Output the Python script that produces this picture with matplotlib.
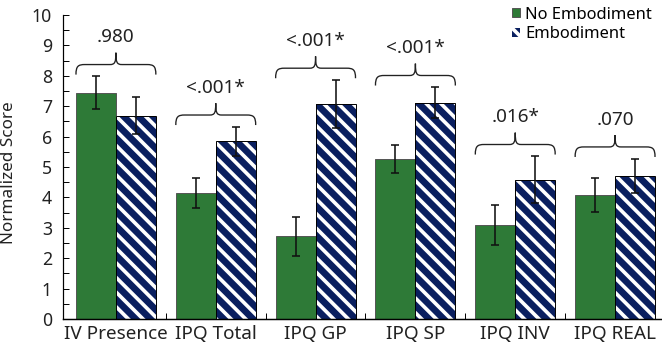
import numpy as np
import matplotlib
matplotlib.use("Agg")
import matplotlib.pyplot as plt
from matplotlib.path import Path
from matplotlib.patches import PathPatch

plt.rcParams['font.family'] = ['Noto Sans', 'DejaVu Sans']
plt.rcParams['hatch.linewidth'] = 3.0

categories = ['IV Presence', 'IPQ Total', 'IPQ GP', 'IPQ SP', 'IPQ INV', 'IPQ REAL']
no_emb = [7.45, 4.15, 2.72, 5.25, 3.10, 4.08]
no_emb_err = [0.53, 0.50, 0.64, 0.46, 0.65, 0.56]
emb = [6.69, 5.84, 7.07, 7.12, 4.58, 4.70]
emb_err = [0.62, 0.48, 0.79, 0.50, 0.77, 0.57]
p_labels = ['.980', '<.001*', '<.001*', '<.001*', '.016*', '.070']

green = '#2e7a37'
navy = '#0a1f5f'
fs = 14.5

dpi = 88
fig = plt.figure(figsize=(662 / dpi, 351 / dpi), dpi=dpi)
ax = fig.add_axes([63 / 662, 32 / 351, 1 - 63 / 662, 304 / 351])

x = np.arange(len(categories))
w = 0.4
ax.bar(x - w / 2, no_emb, w, color=green, edgecolor='#555555', linewidth=0.8,
       label='No Embodiment', zorder=2)
ax.bar(x + w / 2, emb, w, color=navy, edgecolor='white', linewidth=0,
       hatch='\\\\', label='Embodiment', zorder=2)
ax.bar(x + w / 2, emb, w, fill=False, edgecolor='black', linewidth=0.8, zorder=3)

ax.errorbar(x - w / 2, no_emb, yerr=no_emb_err, fmt='none', ecolor='#111111',
            elinewidth=1.3, capsize=3.5, capthick=1.3, zorder=4)
ax.errorbar(x + w / 2, emb, yerr=emb_err, fmt='none', ecolor='#111111',
            elinewidth=1.3, capsize=3.5, capthick=1.3, zorder=4)


# curly brace over each pair
def brace(ax, xl, xr, y0, H=0.72, h1=0.33, dx1=0.09, dx2=0.06):
    xm = (xl + xr) / 2
    y1 = y0 + h1
    yt = y0 + H
    verts = [
        (xl, y0),
        (xl, y1 - 0.05), (xl + dx1 * 0.25, y1), (xl + dx1, y1),
        (xm - dx2, y1),
        (xm - dx2 * 0.15, y1), (xm, y1 + (yt - y1) * 0.2), (xm, yt),
        (xm, y1 + (yt - y1) * 0.2), (xm + dx2 * 0.15, y1), (xm + dx2, y1),
        (xr - dx1, y1),
        (xr - dx1 * 0.25, y1), (xr, y1 - 0.05), (xr, y0),
    ]
    codes = [Path.MOVETO,
             Path.CURVE4, Path.CURVE4, Path.CURVE4,
             Path.LINETO,
             Path.CURVE4, Path.CURVE4, Path.CURVE4,
             Path.CURVE4, Path.CURVE4, Path.CURVE4,
             Path.LINETO,
             Path.CURVE4, Path.CURVE4, Path.CURVE4]
    ax.add_patch(PathPatch(Path(verts, codes), fill=False, edgecolor='#222222',
                           linewidth=1.1, zorder=5))
    return yt


for i in range(len(categories)):
    top = max(no_emb[i] + no_emb_err[i], emb[i] + emb_err[i]) + 0.06
    yt = brace(ax, x[i] - w, x[i] + w, top)
    ax.text(x[i], yt + 0.5, p_labels[i], ha='center', va='center', fontsize=15.5,
            color='#222222')

ax.set_xlim(-0.53, 5.47)
ax.set_ylim(0, 10)
ax.set_yticks(np.arange(0, 11, 1))
ax.set_yticks(np.arange(0, 10.5, 0.5), minor=True)
ax.set_xticks(x)
ax.set_xticklabels(categories)
ax.set_xticks(x[:-1] + 0.5, minor=True)
ax.tick_params(axis='x', which='major', length=0, pad=5, labelsize=15.5, labelcolor='#222222')
ax.tick_params(axis='x', which='minor', direction='in', length=5, width=0.8)
ax.tick_params(axis='y', which='both', direction='in', length=5, width=0.8,
               labelsize=fs, labelcolor='#222222', pad=9)
for s in ['top', 'right']:
    ax.spines[s].set_visible(False)
ax.spines['left'].set_linewidth(1.0)
ax.spines['bottom'].set_linewidth(1.2)
ax.set_ylabel('Normalized Score', fontsize=14, color='#222222')
ax.yaxis.set_label_coords(-0.077, 0.48)

ax.legend(loc='upper right', bbox_to_anchor=(1.0, 1.06), frameon=False,
          fontsize=13.5, handlelength=0.45, handleheight=0.45, handletextpad=0.35,
          labelspacing=0.2, borderaxespad=0.2)

fig.savefig('out.png', dpi=dpi)
